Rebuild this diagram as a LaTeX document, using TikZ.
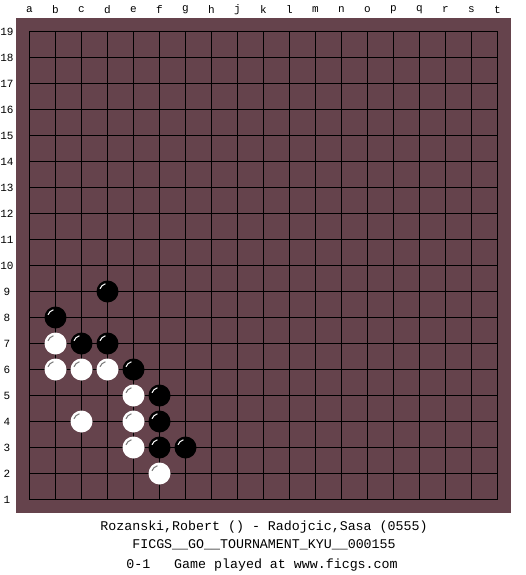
\documentclass[tikz,border=0pt]{standalone}
\usepackage{fontspec}
\setmonofont{Liberation Mono}
\definecolor{board}{RGB}{101,67,76}
\definecolor{hlgray}{RGB}{120,120,120}
\begin{document}
\begin{tikzpicture}[x=1pt,y=-1pt,
  gridline/.style={line width=1.2pt,black},
  lbl/.style={font=\ttfamily\fontsize{11}{11}\selectfont,inner sep=0pt},
  info/.style={font=\ttfamily\fontsize{13.3}{14}\selectfont,inner sep=0pt,anchor=base},
  bstone/.style={circle,fill=black,minimum size=22pt,inner sep=0pt},
  wstone/.style={circle,fill=white,minimum size=22pt,inner sep=0pt}]
\useasboundingbox (0,0) rectangle (525,575);
\fill[white] (0,0) rectangle (525,575);
\fill[board] (16,18) rectangle (511,513);
% grid
\foreach \i in {0,...,18}{
  \draw[gridline] (29.5+\i*26,31.5) -- (29.5+\i*26,499.5);
  \draw[gridline] (29.5,31.5+\i*26) -- (497.5,31.5+\i*26);
}
% column labels
\foreach \l [count=\i from 0] in {a,b,c,d,e,f,g,h,j,k,l,m,n,o,p,q,r,s,t}{
  \node[lbl] (col\l) at (29.5+\i*26,10) {\l};
}
% row labels
\foreach \r in {1,...,19}{
  \node[lbl] (row\r) at (7,31.5+19*26-\r*26) {\r};
}
% stones: column index (a=0), row number
\newcommand{\stonepos}[2]{(29.5+#1*26,31.5+19*26-#2*26)}
\foreach \c/\r [count=\k] in {3/9,1/8,2/7,3/7,4/6,5/5,5/4,5/3,6/3}{
  \node[bstone] (b\k) at \stonepos{\c}{\r} {};
  \draw[white,line width=1pt] (b\k.center) ++(200:8) arc[start angle=200,end angle=255,radius=8];
}
\foreach \c/\r [count=\k] in {1/7,1/6,2/6,3/6,4/5,2/4,4/4,4/3,5/2}{
  \node[wstone] (w\k) at \stonepos{\c}{\r} {};
  \draw[hlgray,line width=1pt] (w\k.center) ++(200:8) arc[start angle=200,end angle=255,radius=8];
}
% info text
\node[info] (t1) at (264,530) {Rozanski,Robert () - Radojcic,Sasa (0555)};
\node[info] (t2) at (264,548) {FICGS\_\_GO\_\_TOURNAMENT\_KYU\_\_000155};
\node[info] (t3) at (262,568) {0-1\ \ \ Game played at www.ficgs.com};
\end{tikzpicture}
\end{document}
